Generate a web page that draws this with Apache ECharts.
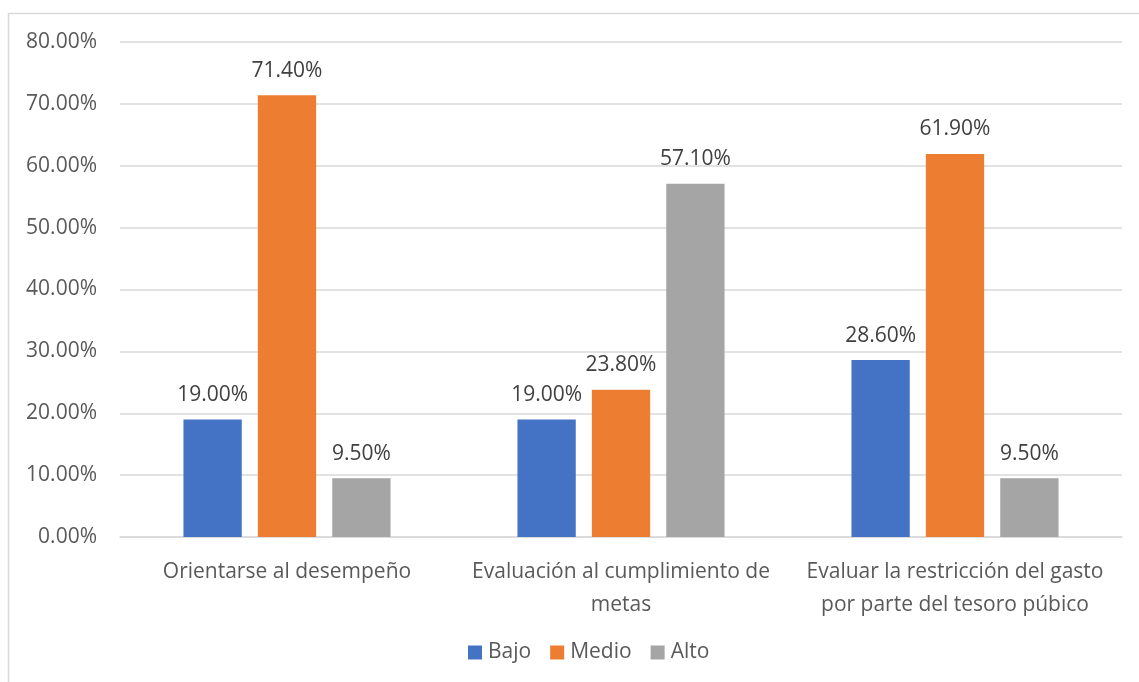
<!DOCTYPE html>
<html><head><meta charset="utf-8">
<script src="https://cdn.jsdelivr.net/npm/echarts@6/dist/echarts.min.js"></script>
<style>html,body{margin:0;padding:0;background:#fff}#c{width:1139px;height:682px;}</style>
</head><body><div id="c"></div>
<script>
const categories = ["Orientarse al desempeño", "Evaluación al cumplimiento de\nmetas", "Evaluar la restricción del gasto\npor parte del tesoro púbico"];
const seriesNames = ["Bajo", "Medio", "Alto"];
const bajo = [19.0, 19.0, 28.6];
const medio = [71.4, 23.8, 61.9];
const alto = [9.5, 57.1, 9.5];
const colors = ["#4472C4", "#ED7D31", "#A5A5A5"];
const FONT = "'Open Sans', 'Noto Sans', sans-serif";
const chart = echarts.init(document.getElementById('c'), null, {renderer: 'canvas'});
const mk = (name, data, color) => ({
  name, type: 'bar', data, barGap: '27.6%', barCategoryGap: '38%',
  itemStyle: {color},
  label: {show: true, position: 'top', distance: 14, color: '#404040', fontSize: 21, fontFamily: FONT,
    formatter: p => p.value.toFixed(2) + '%'}
});
chart.setOption({
  animation: false,
  graphic: [{type: 'rect', shape: {x: 8.5, y: 13.5, width: 1140, height: 680}, style: {fill: 'none', stroke: '#d9d9d9', lineWidth: 1.5}}],
  grid: {left: 120, right: 17, top: 42, bottom: 145},
  legend: {top: 637, left: 463, itemWidth: 14, itemHeight: 14, itemGap: 19,
    icon: 'rect', textStyle: {fontSize: 21, color: '#595959', fontFamily: FONT, padding: [0, 0, 0, 1]}, data: seriesNames},
  xAxis: {type: 'category', data: categories,
    axisLine: {lineStyle: {color: '#d9d9d9', width: 1.5}}, axisTick: {show: false},
    axisLabel: {fontSize: 21, color: '#595959', fontFamily: FONT, margin: 19, lineHeight: 33, interval: 0}},
  yAxis: {type: 'value', min: 0, max: 80, interval: 10,
    axisLine: {show: false}, axisTick: {show: false},
    splitLine: {lineStyle: {color: '#d9d9d9', width: 1.5}},
    axisLabel: {fontSize: 21, color: '#595959', fontFamily: FONT, margin: 23, formatter: v => v.toFixed(2) + '%'}},
  series: [mk(seriesNames[0], bajo, colors[0]), mk(seriesNames[1], medio, colors[1]), mk(seriesNames[2], alto, colors[2])]
});
</script></body></html>
